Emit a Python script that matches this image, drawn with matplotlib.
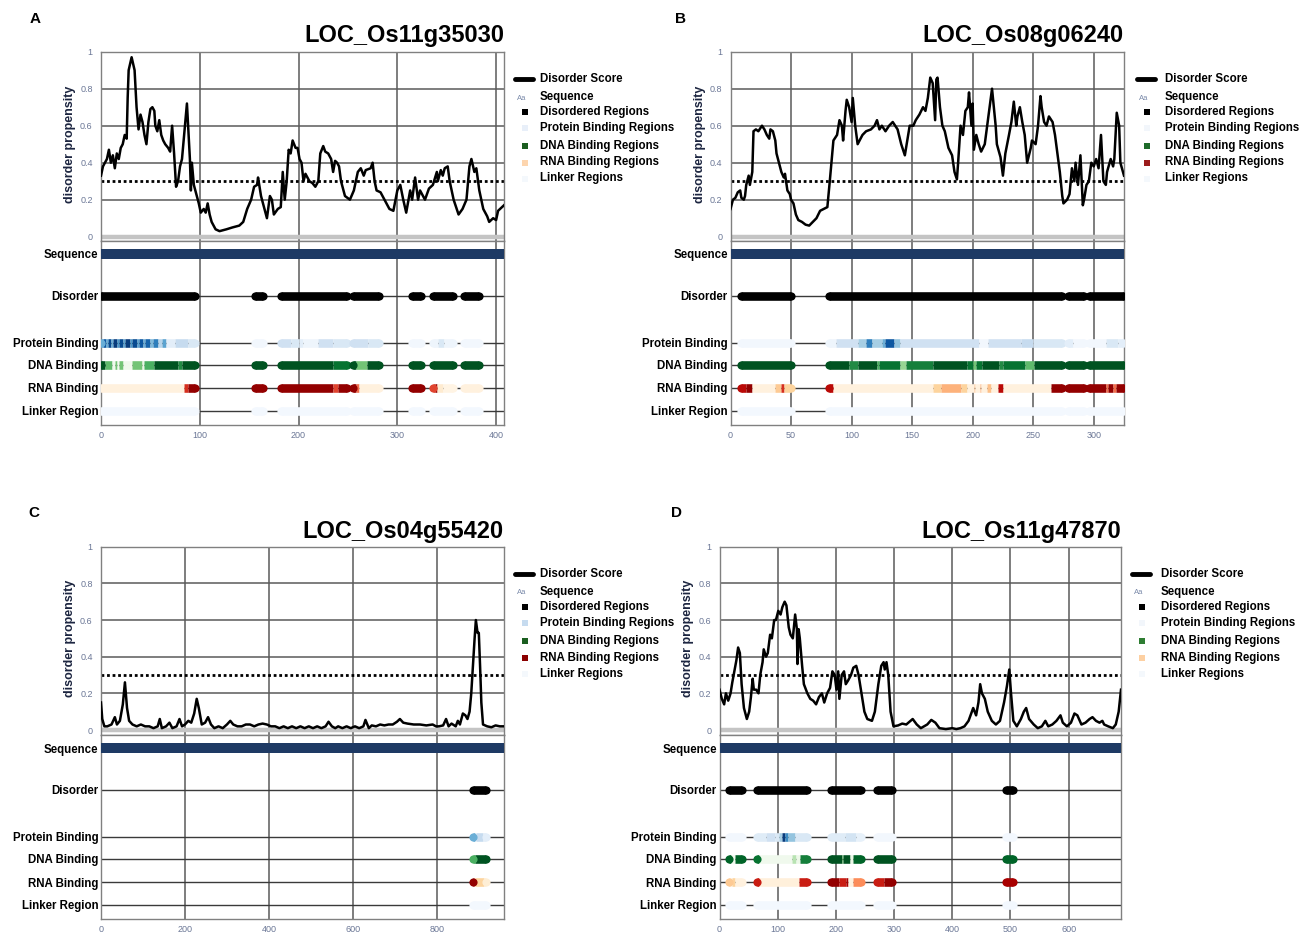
import numpy as np
import matplotlib
matplotlib.use('Agg')
import matplotlib.pyplot as plt

plt.rcParams['font.family'] = ['Liberation Sans', 'DejaVu Sans']

# ---------------- DATA ----------------
TRACK_NAMES = ['Sequence', 'Disorder', 'Protein Binding', 'DNA Binding', 'RNA Binding', 'Linker Region']
LEGEND_LABELS = ['Disorder Score', 'Sequence', 'Disordered Regions', 'Protein Binding Regions',
                 'DNA Binding Regions', 'RNA Binding Regions', 'Linker Regions']
THRESHOLD = 0.3

# Panel A  LOC_Os11g35030
A_title = 'LOC_Os11g35030'
A_length = 408
A_ticks = [0, 100, 200, 300, 400]
A_pos = [0, 2, 4, 6, 8, 10, 12, 14, 16, 18,
         20, 22, 24, 26, 27, 28, 31, 34, 36, 38,
         40, 42, 44, 46, 48, 50, 52, 54, 55, 57,
         59, 61, 63, 65, 68, 70, 72, 74, 76, 78,
         80, 82, 85, 87, 88, 90, 91, 92, 94, 97,
         99, 101, 104, 106, 108, 110, 112, 116, 120, 127,
         133, 140, 144, 148, 152, 155, 158, 159, 162, 165,
         168, 171, 173, 175, 179, 182, 184, 186, 188, 190,
         192, 194, 197, 199, 201, 203, 205, 207, 209, 211,
         214, 217, 220, 222, 225, 227, 230, 233, 235, 237,
         239, 241, 243, 247, 252, 256, 260, 263, 266, 268,
         273, 275, 277, 279, 283, 287, 292, 296, 300, 303,
         306, 309, 313, 315, 318, 321, 323, 328, 332, 336,
         340, 341, 344, 346, 348, 351, 353, 357, 362, 366,
         370, 373, 375, 378, 380, 383, 387, 391, 393, 397,
         400, 402, 406, 408]
A_score = [.33, .38, .40, .42, .47, .40, .44, .37, .45, .42,
           .48, .50, .55, .53, .75, .90, .97, .90, .70, .58,
           .66, .62, .55, .50, .62, .69, .70, .68, .60, .57,
           .63, .55, .52, .50, .48, .46, .60, .45, .27, .30,
           .38, .42, .60, .72, .62, .42, .25, .40, .28, .22,
           .18, .13, .15, .13, .18, .12, .08, .04, .03, .04,
           .05, .06, .08, .15, .20, .27, .28, .32, .22, .16,
           .10, .22, .20, .12, .15, .16, .35, .20, .30, .47,
           .45, .52, .48, .48, .42, .40, .30, .34, .32, .30,
           .29, .27, .30, .45, .49, .46, .45, .42, .35, .41,
           .40, .38, .30, .22, .20, .25, .35, .37, .33, .36,
           .37, .40, .30, .25, .24, .20, .15, .14, .25, .28,
           .20, .13, .25, .20, .32, .20, .25, .20, .26, .28,
           .35, .30, .36, .33, .37, .38, .30, .20, .12, .15,
           .20, .38, .42, .35, .37, .25, .15, .11, .08, .10,
           .09, .14, .16, .17]
A_disorder = [(0, 95), (156, 164), (182, 249), (255, 281), (315, 324), (336, 356), (368, 383)]
A_protein = [(0, 2, .5), (2, 5, .85), (5, 7, .5), (7, 10, .9), (10, 12, .5), (12, 16, .95), (16, 18, .6),
             (18, 22, .9), (22, 24, .55), (24, 29, .95), (29, 31, .6), (31, 36, .9), (36, 38, .55),
             (38, 43, .85), (43, 45, .5), (45, 50, .8), (50, 53, .45), (53, 58, .7), (58, 62, .3),
             (62, 66, .55), (66, 75, .1), (75, 88, .25), (88, 95, .15),
             (156, 164, .03),
             (182, 192, .2), (192, 200, .15), (200, 205, .1), (205, 220, .05), (220, 235, .2), (235, 249, .15),
             (255, 270, .2), (270, 281, .15),
             (315, 324, .03), (336, 341, .05), (341, 347, .15), (347, 356, .05), (368, 383, .03)]
A_dna = [(0, 4, .95), (4, 11, .55), (11, 14, .05), (14, 16.5, .5), (16.5, 18.6, .05), (18.6, 22, .5),
         (22, 31, .05), (31, 42, .5), (42, 44, .1), (44, 54, .6), (54, 78, .95), (78, 82, .75), (82, 95, .95),
         (156, 164, .95),
         (182, 235, .95), (235, 249, .85),
         (255, 258, .95), (258, 269, .5), (269, 281, .95),
         (315, 324, .95), (336, 356, .95), (368, 383, .95)]
A_rna = [(0, 84, .05), (84, 88, .75), (88, 95, .95),
         (156, 164, .95),
         (182, 235, .95), (235, 240, .7), (240, 249, .95),
         (255, 258, .95), (258, 261, .6), (261, 281, .05),
         (315, 324, .95),
         (336, 338, .7), (338, 340, .95), (340, 346, .1), (346, 356, .03),
         (368, 383, .05)]

# Panel B  LOC_Os08g06240
B_title = 'LOC_Os08g06240'
B_length = 325
B_ticks = [0, 50, 100, 150, 200, 250, 300]
B_pos = [0, 2, 4, 6, 8, 9, 11, 12, 13, 15,
         16, 18, 19, 21, 23, 25, 26, 28, 30, 32,
         33, 35, 37, 38, 40, 42, 44, 45, 47, 49,
         50, 52, 54, 56, 59, 62, 65, 68, 71, 74,
         77, 80, 82, 84, 85, 88, 90, 92, 93, 95,
         96, 98, 100, 101, 103, 105, 109, 112, 116, 119,
         121, 123, 125, 128, 131, 134, 138, 141, 144, 147,
         148, 151, 153, 156, 159, 161, 163, 165, 167, 169,
         170, 171, 173, 175, 177, 180, 183, 185, 187, 188,
         190, 192, 194, 196, 197, 199, 200, 201, 203, 205,
         207, 210, 212, 214, 216, 219, 220, 223, 225, 227,
         230, 232, 234, 236, 237, 239, 241, 243, 245, 248,
         249, 252, 254, 256, 257, 259, 261, 263, 266, 268,
         270, 272, 274, 275, 278, 280, 282, 284, 285, 287,
         289, 291, 292, 294, 296, 298, 300, 302, 304, 306,
         308, 310, 311, 314, 316, 317, 319, 321, 322, 325]
B_score = [.15, .20, .21, .24, .25, .21, .20, .22, .28, .33,
           .28, .35, .57, .58, .57, .59, .60, .58, .55, .53,
           .58, .57, .52, .45, .40, .35, .32, .34, .25, .23,
           .20, .18, .12, .09, .08, .065, .06, .08, .10, .14,
           .15, .16, .30, .45, .52, .55, .63, .60, .52, .68,
           .74, .70, .62, .75, .60, .50, .55, .57, .58, .60,
           .63, .58, .60, .57, .60, .62, .58, .50, .44, .56,
           .60, .60, .63, .66, .70, .68, .75, .86, .83, .63,
           .85, .86, .70, .60, .57, .48, .44, .35, .31, .40,
           .60, .55, .68, .70, .78, .60, .72, .47, .55, .50,
           .46, .50, .60, .70, .80, .60, .50, .43, .33, .45,
           .55, .62, .73, .60, .65, .70, .62, .55, .40, .48,
           .52, .50, .60, .76, .70, .62, .60, .65, .62, .55,
           .45, .35, .22, .18, .20, .23, .37, .30, .40, .28,
           .44, .17, .20, .28, .30, .40, .38, .42, .37, .55,
           .30, .28, .35, .42, .38, .42, .67, .60, .40, .33]
B_disorder = [(9, 50), (81, 274), (279, 292), (296, 325)]
B_protein = [(9, 50, .03),
             (81, 87, .05), (87, 105, .2), (105, 112, .35), (112, 117, .7), (117, 125, .35), (125, 128, .5),
             (128, 135, .85), (135, 140, .4), (140, 205, .2), (205, 213, .03), (213, 240, .2), (240, 250, .25),
             (250, 274, .15),
             (279, 283, .1), (283, 292, .03),
             (296, 310, .03), (310, 320, .15), (320, 325, .1)]
B_dna = [(9, 50, .95),
         (81, 98, .95), (98, 105, .75), (105, 121, .95), (121, 123, .6), (123, 140, .85), (140, 145, .4),
         (145, 167, .8), (167, 195, .95), (195, 200, .85), (200, 203, .5), (203, 208, .85), (208, 222, .95),
         (222, 225, .75), (225, 243, .85), (243, 251, .55), (251, 274, .95),
         (279, 292, .95), (296, 325, .95)]
B_rna = [(9, 13, .85), (13, 18, .95), (18, 37, .05), (37, 42, .3), (42, 44, .75), (44, 50, .25),
         (81, 85, .85), (85, 167, .05), (167, 174, .25), (174, 190, .4), (190, 195, .25), (195, 201, .05),
         (201, 202, .35), (202, 206, .05), (206, 207, .4), (207, 212, .05), (212, 215, .35), (215, 221, .05),
         (221, 225, .85), (225, 265, .05), (265, 274, .95),
         (279, 292, .95),
         (296, 310, .95), (310, 312, .6), (312, 316, .95), (316, 318, .6), (318, 325, .95)]

# Panel C  LOC_Os04g55420
C_title = 'LOC_Os04g55420'
C_length = 960
C_ticks = [0, 200, 400, 600, 800]
C_pos = [0, 3, 8, 15, 25, 33, 38, 45, 52, 57,
         62, 67, 75, 85, 95, 105, 115, 125, 135, 140,
         145, 155, 163, 170, 180, 187, 193, 200, 208, 215,
         222, 228, 233, 240, 248, 255, 262, 270, 280, 290,
         300, 308, 315, 325, 335, 345, 355, 365, 375, 385,
         395, 405, 415, 425, 435, 445, 455, 465, 475, 485,
         495, 505, 515, 525, 535, 542, 550, 558, 565, 575,
         585, 595, 605, 615, 625, 630, 638, 645, 655, 665,
         675, 685, 695, 705, 712, 720, 730, 745, 760, 775,
         790, 798, 805, 815, 822, 828, 835, 845, 850, 855,
         862, 868, 873, 878, 882, 886, 890, 893, 897, 900,
         903, 906, 910, 920, 930, 940, 950, 960]
C_score = [.15, .06, .02, .02, .03, .07, .03, .05, .14, .26,
           .12, .05, .03, .02, .03, .02, .02, .01, .02, .06,
           .01, .02, .04, .01, .02, .06, .02, .03, .05, .04,
           .09, .17, .12, .03, .04, .07, .03, .01, .02, .01,
           .03, .05, .03, .02, .02, .03, .03, .02, .03, .035,
           .03, .02, .02, .01, .02, .01, .02, .01, .02, .01,
           .02, .01, .02, .01, .02, .045, .02, .01, .02, .01,
           .02, .01, .02, .01, .02, .055, .01, .025, .02, .03,
           .025, .03, .03, .045, .06, .04, .035, .03, .03, .025,
           .03, .02, .02, .025, .06, .02, .035, .02, .05, .03,
           .09, .08, .06, .10, .20, .35, .50, .60, .53, .53,
           .35, .15, .03, .02, .015, .025, .02, .02]
C_disorder = [(886, 918)]
C_protein = [(886, 890, .5), (890, 893, .05), (893, 910, .25), (910, 918, .1)]
C_dna = [(886, 890, .6), (890, 918, .95)]
C_rna = [(886, 889, .95), (889, 892, .05), (892, 912, .25), (912, 918, .08)]

# Panel D  LOC_Os11g47870
D_title = 'LOC_Os11g47870'
D_length = 690
D_ticks = [0, 100, 200, 300, 400, 500, 600]
D_pos = [0, 4, 8, 11, 15, 19, 22, 26, 29, 32,
         35, 38, 42, 47, 51, 54, 57, 59, 63, 67,
         70, 74, 76, 80, 83, 87, 90, 94, 97, 101,
         105, 108, 112, 115, 119, 122, 126, 130, 133, 134,
         136, 138, 142, 145, 151, 156, 161, 166, 171, 176,
         180, 185, 190, 194, 198, 201, 204, 206, 210, 214,
         217, 221, 226, 230, 235, 239, 244, 249, 254, 262,
         267, 273, 278, 282, 284, 287, 290, 294, 299, 307,
         314, 321, 332, 339, 346, 357, 364, 371, 378, 389,
         400, 407, 414, 421, 428, 436, 441, 445, 448, 451,
         456, 461, 468, 475, 482, 489, 494, 498, 501, 505,
         511, 518, 523, 527, 532, 540, 547, 554, 560, 565,
         572, 579, 586, 590, 597, 604, 610, 615, 622, 629,
         636, 641, 647, 653, 658, 661, 668, 676, 681, 686, 690]
D_score = [.22, .17, .14, .20, .16, .20, .26, .33, .38, .45,
           .42, .25, .12, .06, .10, .18, .28, .22, .22, .20,
           .30, .37, .44, .40, .42, .52, .50, .60, .60, .65,
           .63, .67, .70, .68, .56, .52, .50, .63, .55, .36,
           .55, .50, .35, .25, .20, .17, .16, .14, .18, .20,
           .15, .20, .23, .32, .30, .22, .32, .17, .30, .32,
           .25, .27, .30, .34, .35, .30, .20, .10, .06, .05,
           .10, .25, .35, .37, .33, .37, .30, .10, .02, .025,
           .035, .03, .06, .03, .01, .03, .055, .04, .01, .005,
           .01, .005, .01, .02, .05, .12, .08, .15, .25, .20,
           .17, .10, .05, .03, .05, .15, .24, .33, .20, .05,
           .02, .06, .10, .12, .06, .03, .01, .02, .05, .02,
           .03, .05, .08, .04, .02, .04, .09, .08, .03, .04,
           .06, .07, .05, .04, .05, .03, .02, .01, .03, .10, .22]
D_disorder = [(16, 39), (65, 151), (192, 244), (271, 296), (493, 504)]
D_protein = [(16, 39, .03), (65, 80, .12), (80, 95, .2), (95, 102, .15), (102, 107, .35), (107, 112, .95),
             (112, 118, .65), (118, 130, .4), (130, 151, .15),
             (192, 215, .12), (215, 235, .18), (235, 244, .08),
             (271, 296, .03), (493, 504, .02)]
D_dna = [(16, 20, .9), (20, 27, .05), (27, 39, .9),
         (65, 68, .85), (68, 124, .05), (124, 131, .3), (131, 138, .08), (138, 151, .8),
         (192, 210, .95), (210, 212, .5), (212, 224, .95), (224, 229, .1), (229, 244, .9),
         (271, 296, .95), (493, 504, .9)]
D_rna = [(16, 18, .3), (18, 22, .05), (22, 26, .25), (26, 39, .05),
         (65, 68, .8), (68, 137, .06), (137, 151, .8),
         (192, 206, .95), (206, 217, .8), (217, 221, .9), (221, 230, .05), (230, 244, .5),
         (271, 282, .8), (282, 296, .95),
         (493, 504, .9)]

# ---------------- LAYOUT / STYLE ----------------
W, H = 1300, 933
fig = plt.figure(figsize=(W / 100, H / 100), dpi=100)
ov = fig.add_axes([0, 0, 1, 1])
ov.set_xlim(0, W)
ov.set_ylim(H, 0)
ov.axis('off')

LAYOUT = {
    'A': dict(left=101, right=504, y1=51.7, y0=236.7, split=240.5, bottom=425, letter=(35, 19),
              title_base=42, leg_x=525, text_x=540, leg_y=79),
    'B': dict(left=730.5, right=1124, y1=51.7, y0=236.7, split=240.5, bottom=425, letter=(680, 19),
              title_base=42, leg_x=1147, text_x=1165, leg_y=79),
    'C': dict(left=101, right=504, y1=546.7, y0=730, split=735, bottom=919, letter=(34, 513),
              title_base=538, leg_x=525, text_x=540, leg_y=574),
    'D': dict(left=719.5, right=1121, y1=546.7, y0=730, split=735, bottom=919, letter=(677, 513),
              title_base=538, leg_x=1142, text_x=1161, leg_y=574),
}
TRACK_Y = [13, 55, 102, 124, 147, 170]
TRACK_H = 184
LEG_DY = [0, 18, 33, 49, 67, 83.5, 99.5]
TICK_COLOR = '#6b7796'
GRID_COLOR = '#5a5a5a'
SEG_LW = 6.2

LEG_COLORS = {
    'A': ['#e8eff9', '#1b5e20', '#fdd5ae', '#f4f8fc'],
    'B': ['#f2f6fb', '#1e6b2a', '#9b1c1c', '#f4f8fc'],
    'C': ['#c6dbef', '#1b5e20', '#8b0000', '#f4f8fc'],
    'D': ['#f2f6fb', '#2e7d32', '#fdd0a2', '#f4f8fc'],
}


def draw_track(ax, y, pieces, cmap):
    for (s, e, lv) in pieces:
        ax.plot([s, e], [y, y], color=cmap(lv), lw=SEG_LW, solid_capstyle='butt', zorder=3)
    # rounded ends of contiguous regions
    regions = []
    for (s, e, lv) in pieces:
        if regions and abs(regions[-1][1] - s) < 1e-9:
            regions[-1][1] = e
            regions[-1][3] = lv
        else:
            regions.append([s, e, lv, lv])
    for s, e, l0, l1 in regions:
        ax.plot([s], [y], 'o', ms=SEG_LW * 0.95, color=cmap(l0), mew=0, zorder=3)
        ax.plot([e], [y], 'o', ms=SEG_LW * 0.95, color=cmap(l1), mew=0, zorder=3)


def draw_panel(key, title, length, ticks, pos, score, disorder, protein, dna, rna):
    L = LAYOUT[key]
    unit = L['y0'] - L['y1']
    ext = (L['split'] - L['y0']) / unit
    wfrac = (L['right'] - L['left']) / W
    grid = [t for t in ticks if t > 0]

    # --- disorder score axes ---
    axt = fig.add_axes([L['left'] / W, 1 - L['split'] / H, wfrac, (L['split'] - L['y1']) / H])
    axt.set_xlim(0, length)
    axt.set_ylim(-ext, 1)
    for g in grid:
        axt.axvline(g, color=GRID_COLOR, lw=1.1, zorder=1)
    for yv in [0.2, 0.4, 0.6, 0.8]:
        axt.axhline(yv, color=GRID_COLOR, lw=1.1, zorder=1)
    axt.axhline(0, color='#c4c4c4', lw=3.2, zorder=1.5)
    axt.axhline(THRESHOLD, color='black', lw=2.0, ls=(0, (1, 1)), zorder=2)
    axt.plot(pos, score, color='black', lw=1.8, zorder=3)
    axt.set_xticks([])
    axt.set_yticks([0, 0.2, 0.4, 0.6, 0.8, 1])
    axt.set_yticklabels(['0', '0.2', '0.4', '0.6', '0.8', '1'])
    axt.tick_params(axis='y', length=0, pad=6, labelsize=6.5, colors=TICK_COLOR)
    for sp in axt.spines.values():
        sp.set_color('#808080')
        sp.set_linewidth(1.0)

    # --- feature track axes ---
    axb = fig.add_axes([L['left'] / W, 1 - L['bottom'] / H, wfrac, (L['bottom'] - L['split']) / H])
    axb.set_xlim(0, length)
    axb.set_ylim(TRACK_H, 0)
    for g in grid:
        axb.axvline(g, color=GRID_COLOR, lw=1.1, zorder=0.5)
    for y in TRACK_Y[1:]:
        axb.plot([0, length], [y, y], color='#3a3a3a', lw=1.0, zorder=1)
    axb.plot([0, length], [TRACK_Y[0], TRACK_Y[0]], color='#1e3a64', lw=7.2,
             solid_capstyle='butt', zorder=3)
    black = lambda v: 'black'
    draw_track(axb, TRACK_Y[1], [(s, e, 1.0) for s, e in disorder], black)
    draw_track(axb, TRACK_Y[2], protein, plt.cm.Blues)
    draw_track(axb, TRACK_Y[3], dna, plt.cm.Greens)
    draw_track(axb, TRACK_Y[4], rna, plt.cm.OrRd)
    draw_track(axb, TRACK_Y[5], [(s, e, 0.02) for s, e in disorder], plt.cm.Blues)
    axb.set_xticks(ticks)
    axb.set_xticklabels([str(t) for t in ticks])
    axb.tick_params(axis='x', length=0, pad=4, labelsize=6.5, colors=TICK_COLOR)
    axb.set_yticks(TRACK_Y)
    axb.set_yticklabels(TRACK_NAMES, fontsize=8.3, fontweight='bold')
    axb.tick_params(axis='y', length=0, pad=2)
    for sp in axb.spines.values():
        sp.set_color('#808080')
        sp.set_linewidth(1.0)

    # --- annotations ---
    ov.text(L['letter'][0], L['letter'][1], key, ha='center', va='center', fontsize=11, fontweight='bold')
    ov.text(L['right'], L['title_base'], title, ha='right', va='baseline', fontsize=17, fontweight='bold')
    ov.text(L['left'] - 31, (L['y1'] + L['y0']) / 2, 'disorder propensity', rotation=90,
            ha='center', va='center', fontsize=9, fontweight='bold', color='#1c2540')

    # --- legend ---
    lx, tx, ly = L['leg_x'], L['text_x'], L['leg_y']
    ys = [ly + d for d in LEG_DY]
    ov.plot([lx - 10, lx + 8], [ys[0], ys[0]], color='black', lw=3.5, solid_capstyle='round')
    ov.text(lx - 3, ys[1] + 1, 'Aa', ha='center', va='center', fontsize=5.5, color='#7a8aaa')
    sq_colors = ['black'] + LEG_COLORS[key]
    for yy, c in zip(ys[2:], sq_colors):
        ov.plot([lx], [yy], 's', ms=4.2, color=c, mew=0)
    for yy, lab in zip(ys, LEGEND_LABELS):
        ov.text(tx, yy, lab, ha='left', va='center', fontsize=8.3, fontweight='bold')


draw_panel('A', A_title, A_length, A_ticks, A_pos, A_score, A_disorder, A_protein, A_dna, A_rna)
draw_panel('B', B_title, B_length, B_ticks, B_pos, B_score, B_disorder, B_protein, B_dna, B_rna)
draw_panel('C', C_title, C_length, C_ticks, C_pos, C_score, C_disorder, C_protein, C_dna, C_rna)
draw_panel('D', D_title, D_length, D_ticks, D_pos, D_score, D_disorder, D_protein, D_dna, D_rna)

fig.savefig('out.png', dpi=100)
